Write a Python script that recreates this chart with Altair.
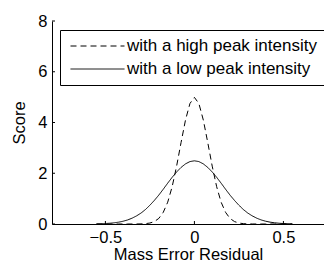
import altair as alt
import pandas as pd

x_vals = [-0.55, -0.525, -0.5, -0.475, -0.45, -0.425, -0.4, -0.375, -0.35, -0.325,
          -0.3, -0.275, -0.25, -0.225, -0.2, -0.175, -0.15, -0.125, -0.1, -0.075,
          -0.05, -0.025, 0.0, 0.025, 0.05, 0.075, 0.1, 0.125, 0.15, 0.175, 0.2,
          0.225, 0.25, 0.275, 0.3, 0.325, 0.35, 0.375, 0.4, 0.425, 0.45, 0.475,
          0.5, 0.525, 0.55]
high_vals = [0.0, 0.0, 0.0, 0.0, 0.0, 0.0, 0.0, 0.0, 0.0, 0.001,
             0.004, 0.014, 0.038, 0.096, 0.22, 0.46, 0.86, 1.47, 2.28, 3.21,
             4.10, 4.75, 4.99, 4.75, 4.10, 3.21, 2.28, 1.47, 0.86, 0.46, 0.22,
             0.096, 0.038, 0.014, 0.004, 0.001, 0.0, 0.0, 0.0, 0.0, 0.0, 0.0,
             0.0, 0.0, 0.0]
low_vals = [0.007, 0.011, 0.019, 0.030, 0.048, 0.073, 0.11, 0.16, 0.23, 0.32,
            0.43, 0.57, 0.74, 0.93, 1.14, 1.37, 1.61, 1.84, 2.05, 2.23,
            2.37, 2.46, 2.49, 2.46, 2.37, 2.23, 2.05, 1.84, 1.61, 1.37, 1.14,
            0.93, 0.74, 0.57, 0.43, 0.32, 0.23, 0.16, 0.11, 0.073, 0.048, 0.030,
            0.019, 0.011, 0.007]
series_names = ["with a high peak intensity", "with a low peak intensity"]
x_ticks = [-0.5, 0, 0.5]
y_ticks = [0, 2, 4, 6, 8]

rows = []
for xv, hv, lv in zip(x_vals, high_vals, low_vals):
    rows.append({"x": xv, "y": hv, "series": series_names[0]})
    rows.append({"x": xv, "y": lv, "series": series_names[1]})
df = pd.DataFrame(rows)

FONT = "Liberation Sans"
FS = 16.5
W, H = 272, 203
xdom = [-0.8, 0.728]
ydom = [0, 8]

xscale = alt.Scale(domain=xdom, nice=False, zero=False)
yscale = alt.Scale(domain=ydom, nice=False)

lines = alt.Chart(df).mark_line(color="black", strokeWidth=1, clip=True).encode(
    x=alt.X("x:Q", scale=xscale,
            axis=alt.Axis(values=x_ticks, title="Mass Error Residual", format="~g",
                          tickSize=0, labelPadding=5, titleY=35,
                          titleBaseline="alphabetic", grid=False)),
    y=alt.Y("y:Q", scale=yscale,
            axis=alt.Axis(values=y_ticks, title="Score", tickSize=0, labelPadding=5,
                          titleX=-28, titleBaseline="alphabetic", grid=False)),
    strokeDash=alt.StrokeDash(
        "series:N",
        scale=alt.Scale(domain=series_names, range=[[6, 4], [1, 0]]),
        legend=alt.Legend(
            title=None, orient="none", legendX=8, legendY=9,
            symbolType="stroke", symbolSize=2916, symbolStrokeWidth=1,
            symbolStrokeColor="black", symbolOffset=3, labelOffset=2,
            labelFont=FONT, labelFontSize=17, labelColor="black",
            strokeColor="black", fillColor="white", padding=7,
            rowPadding=5, clipHeight=18, labelLimit=400,
        ),
    ),
    detail="series:N",
)

xt = pd.DataFrame({"t": x_ticks})
yt = pd.DataFrame({"t": y_ticks})
xtick_marks = alt.Chart(xt).mark_rule(color="black", strokeWidth=1).encode(
    x=alt.X("t:Q", scale=xscale), y=alt.value(H), y2=alt.value(H - 3))
ytick_marks = alt.Chart(yt).mark_rule(color="black", strokeWidth=1).encode(
    y=alt.Y("t:Q", scale=yscale), x=alt.value(0), x2=alt.value(3))

chart = alt.layer(lines, xtick_marks, ytick_marks).properties(
    width=W, height=H,
    padding={"left": 44, "top": 13, "right": 0, "bottom": 37},
    autosize=alt.AutoSizeParams(type="none"),
).configure_view(stroke=None).configure_axis(
    domainColor="black", domainWidth=1, labelFont=FONT, labelFontSize=FS,
    labelColor="black", titleFont=FONT, titleFontSize=FS, titleColor="black",
    titleFontWeight="normal",
)

chart.save("out.html", embed_options={"renderer": "svg", "actions": False})
